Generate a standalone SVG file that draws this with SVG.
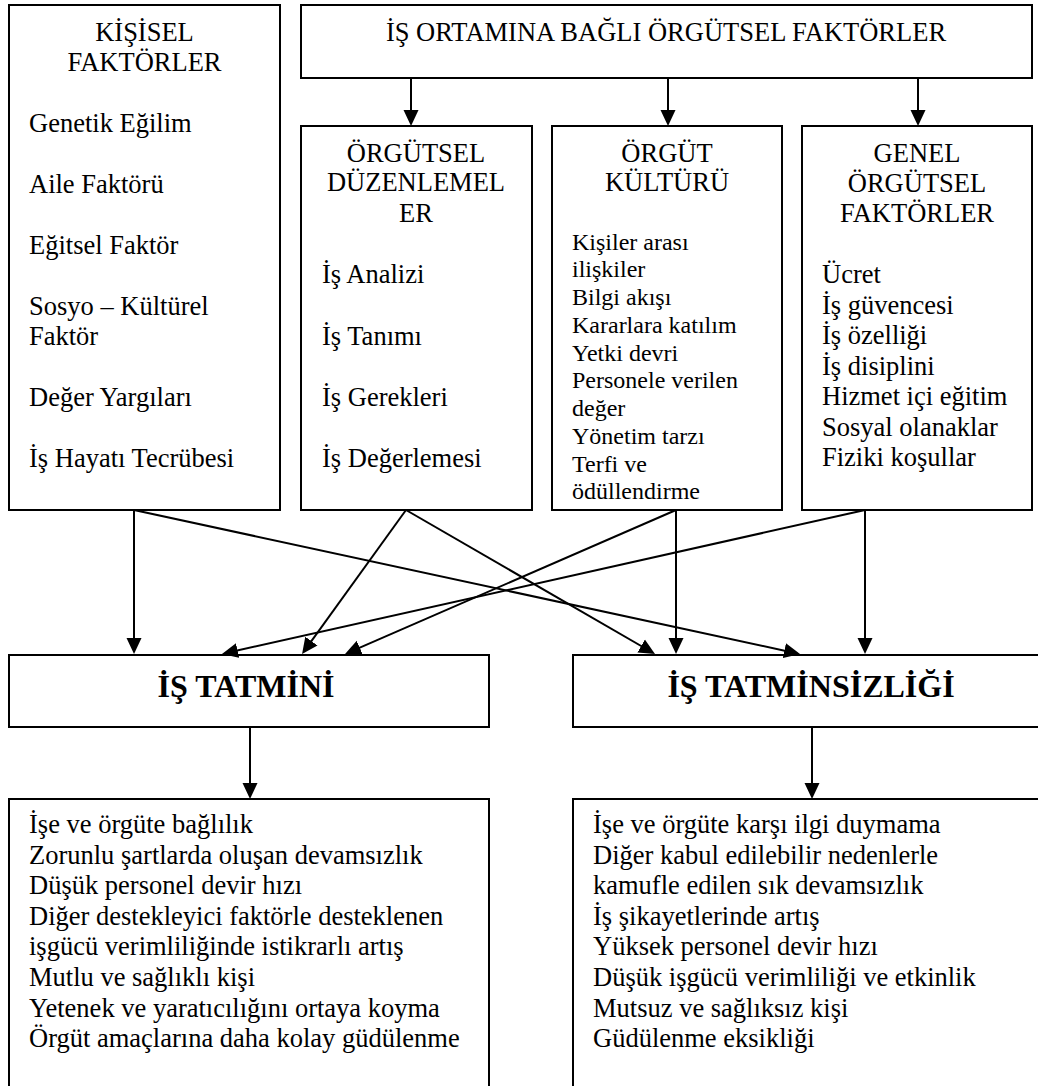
<svg xmlns="http://www.w3.org/2000/svg" width="1038" height="1086" viewBox="0 0 1038 1086" font-family="Liberation Serif, Times New Roman, DejaVu Serif, serif">
<style>
.box{fill:#fff;stroke:#000;stroke-width:2}
text{font-family:'Liberation Serif','Times New Roman',Times,serif}
.t{font-size:26.5px;fill:#000}
.s{font-size:24px}
.c{text-anchor:middle}
.b{font-weight:bold;font-size:32px}
.ln{stroke:#000;stroke-width:2;fill:none;marker-end:url(#ah)}
</style>
<defs>
<marker id="ah" markerUnits="userSpaceOnUse" markerWidth="16" markerHeight="16" viewBox="0 0 16 16" refX="13" refY="8" orient="auto">
<path d="M0,0.5 L16,8 L0,15.5 z" fill="#000"/>
</marker>
</defs>
<rect width="1038" height="1086" fill="#fff"/>

<g id="kisisel">
<rect class="box" x="9" y="5" width="271" height="505"/>
<text class="t c" x="144.5" y="40.5">KİŞİSEL</text>
<text class="t c" x="144.5" y="71">FAKTÖRLER</text>
<text class="t" x="29" y="131.5">Genetik Eğilim</text>
<text class="t" x="29" y="192.5">Aile Faktörü</text>
<text class="t" x="29" y="253.5">Eğitsel Faktör</text>
<text class="t" x="29" y="314.5">Sosyo – Kültürel</text>
<text class="t" x="29" y="345">Faktör</text>
<text class="t" x="29" y="406">Değer Yargıları</text>
<text class="t" x="29" y="467">İş Hayatı Tecrübesi</text>
</g>

<g id="is-ortami">
<rect class="box" x="301" y="5" width="731" height="73"/>
<text class="t c" x="666" y="40.5">İŞ ORTAMINA BAĞLI ÖRGÜTSEL FAKTÖRLER</text>
</g>

<g id="orgutsel-duzenlemeler">
<rect class="box" x="301" y="126" width="231" height="384"/>
<text class="t c" x="416" y="161.5">ÖRGÜTSEL</text>
<text class="t c" x="416" y="191">DÜZENLEMEL</text>
<text class="t c" x="416" y="221.5">ER</text>
<text class="t" x="322" y="283">İş Analizi</text>
<text class="t" x="322" y="344.5">İş Tanımı</text>
<text class="t" x="322" y="406">İş Gerekleri</text>
<text class="t" x="322" y="467">İş Değerlemesi</text>
</g>

<g id="orgut-kulturu">
<rect class="box" x="552" y="126" width="230" height="384"/>
<text class="t c" x="667" y="161.5">ÖRGÜT</text>
<text class="t c" x="667" y="191">KÜLTÜRÜ</text>
<text class="t s" x="572" y="249.5">Kişiler arası</text>
<text class="t s" x="572" y="277.3">ilişkiler</text>
<text class="t s" x="572" y="305">Bilgi akışı</text>
<text class="t s" x="572" y="332.8">Kararlara katılım</text>
<text class="t s" x="572" y="360.5">Yetki devri</text>
<text class="t s" x="572" y="388.3">Personele verilen</text>
<text class="t s" x="572" y="416">değer</text>
<text class="t s" x="572" y="443.8">Yönetim tarzı</text>
<text class="t s" x="572" y="471.5">Terfi ve</text>
<text class="t s" x="572" y="499.3">ödüllendirme</text>
</g>

<g id="genel-orgutsel">
<rect class="box" x="802" y="126" width="230" height="384"/>
<text class="t c" x="917" y="161.5">GENEL</text>
<text class="t c" x="917" y="191.5">ÖRGÜTSEL</text>
<text class="t c" x="917" y="221.5">FAKTÖRLER</text>
<text class="t" x="822" y="283">Ücret</text>
<text class="t" x="822" y="313.5">İş güvencesi</text>
<text class="t" x="822" y="344">İş özelliği</text>
<text class="t" x="822" y="374.5">İş disiplini</text>
<text class="t" x="822" y="405">Hizmet içi eğitim</text>
<text class="t" x="822" y="435.5">Sosyal olanaklar</text>
<text class="t" x="822" y="466">Fiziki koşullar</text>
</g>

<g id="is-tatmini">
<rect class="box" x="9" y="655" width="480" height="72"/>
<text class="t c b" x="246" y="697">İŞ TATMİNİ</text>
</g>

<g id="is-tatminsizligi">
<rect class="box" x="573" y="655" width="480" height="72"/>
<text class="t c b" x="811" y="697">İŞ TATMİNSİZLİĞİ</text>
</g>

<g id="tatmin-sonuclari">
<rect class="box" x="9" y="799" width="480" height="300"/>
<text class="t" x="29" y="833">İşe ve örgüte bağlılık</text>
<text class="t" x="29" y="863.6">Zorunlu şartlarda oluşan devamsızlık</text>
<text class="t" x="29" y="894.2">Düşük personel devir hızı</text>
<text class="t" x="29" y="924.8">Diğer destekleyici faktörle desteklenen</text>
<text class="t" x="29" y="955.4">işgücü verimliliğinde istikrarlı artış</text>
<text class="t" x="29" y="986">Mutlu ve sağlıklı kişi</text>
<text class="t" x="29" y="1016.6">Yetenek ve yaratıcılığını ortaya koyma</text>
<text class="t" x="29" y="1047.2">Örgüt amaçlarına daha kolay güdülenme</text>
</g>

<g id="tatminsizlik-sonuclari">
<rect class="box" x="573" y="799" width="480" height="300"/>
<text class="t" x="593" y="833">İşe ve örgüte karşı ilgi duymama</text>
<text class="t" x="593" y="863.6">Diğer kabul edilebilir nedenlerle</text>
<text class="t" x="593" y="894.2">kamufle edilen sık devamsızlık</text>
<text class="t" x="593" y="924.8">İş şikayetlerinde artış</text>
<text class="t" x="593" y="955.4">Yüksek personel devir hızı</text>
<text class="t" x="593" y="986">Düşük işgücü verimliliği ve etkinlik</text>
<text class="t" x="593" y="1016.6">Mutsuz ve sağlıksız kişi</text>
<text class="t" x="593" y="1047.2">Güdülenme eksikliği</text>
</g>

<g id="connectors">
<line class="ln" x1="411" y1="78" x2="411" y2="123"/>
<line class="ln" x1="668" y1="78" x2="668" y2="123"/>
<line class="ln" x1="918" y1="78" x2="918" y2="123"/>
<line class="ln" x1="134" y1="510" x2="134" y2="651"/>
<line class="ln" x1="134" y1="510" x2="797.1" y2="653.4"/>
<line class="ln" x1="406" y1="510" x2="303.8" y2="651.6"/>
<line class="ln" x1="406" y1="510" x2="652.4" y2="652.5"/>
<line class="ln" x1="676" y1="510" x2="676" y2="651"/>
<line class="ln" x1="676" y1="510" x2="347.8" y2="652.8"/>
<line class="ln" x1="865" y1="510" x2="865" y2="651"/>
<line class="ln" x1="865" y1="510" x2="224.9" y2="653.3"/>
<line class="ln" x1="250" y1="727" x2="250" y2="796"/>
<line class="ln" x1="812" y1="727" x2="812" y2="796"/>
</g>
</svg>
